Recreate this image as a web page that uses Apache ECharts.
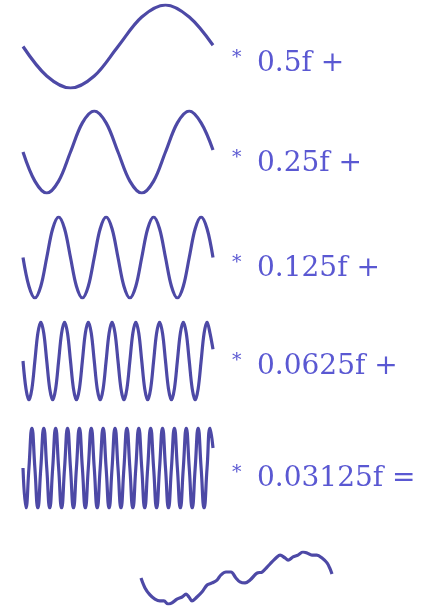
<!DOCTYPE html>
<html>
<head>
<meta charset="utf-8">
<script src="https://cdn.jsdelivr.net/npm/echarts@6/dist/echarts.min.js"></script>
<style>
html,body{margin:0;padding:0;background:#ffffff;}
#c{width:432px;height:610px;}
</style>
</head>
<body>
<div id="c"></div>
<script>
// Octave waves (amplitude normalised to -1..1)
const wave1 = [0, -0.71, -1, -0.71, 0, 0.71, 1, 0.71, 0.03];
const wave2 = [0, -0.71, -1, -0.71, 0, 0.71, 1, 0.71, 0, -0.71, -1, -0.71, 0, 0.71, 1, 0.71, 0.05];
const wave3 = [0, -0.71, -1, -0.71, 0, 0.71, 1, 0.71,
               0, -0.71, -1, -0.71, 0, 0.71, 1, 0.71,
               0, -0.71, -1, -0.71, 0, 0.71, 1, 0.71,
               0, -0.71, -1, -0.71, 0, 0.71, 1, 0.71, 0];
const wave4 = [0, -0.71, -1, -0.71, 0, 0.71, 1, 0.71, 0, -0.71, -1, -0.71, 0, 0.71, 1, 0.71,
               0, -0.71, -1, -0.71, 0, 0.71, 1, 0.71, 0, -0.71, -1, -0.71, 0, 0.71, 1, 0.71,
               0, -0.71, -1, -0.71, 0, 0.71, 1, 0.71, 0, -0.71, -1, -0.71, 0, 0.71, 1, 0.71,
               0, -0.71, -1, -0.71, 0, 0.71, 1, 0.71, 0, -0.71, -1, -0.71, 0, 0.71, 1, 0.71, 0.3];
const wave5 = [0, -1, 0, 1, 0, -1, 0, 1, 0, -1, 0, 1, 0, -1, 0, 1,
               0, -1, 0, 1, 0, -1, 0, 1, 0, -1, 0, 1, 0, -1, 0, 1,
               0, -1, 0, 1, 0, -1, 0, 1, 0, -1, 0, 1, 0, -1, 0, 1,
               0, -1, 0, 1, 0, -1, 0, 1, 0, -1, 0, 1, 0, -1, 0, 1, 0.5];
// Resulting sum curve: position along the curve (0..1) and value
const sumX = [0, 0.021, 0.047, 0.073, 0.099, 0.120, 0.141, 0.162, 0.188, 0.215, 0.236, 0.251, 0.267, 0.293,
              0.319, 0.346, 0.372, 0.398, 0.419, 0.445, 0.471, 0.497, 0.518, 0.545, 0.571, 0.607, 0.634, 0.660,
              0.686, 0.712, 0.728, 0.754, 0.770, 0.796, 0.822, 0.848, 0.869, 0.895, 0.921, 0.948, 0.974, 0.990, 1.0];
const sumY = [0, -0.38, -0.65, -0.81, -0.88, -0.88, -1.0, -0.96, -0.81, -0.73, -0.62, -0.73, -0.88, -0.73,
              -0.54, -0.27, -0.19, -0.08, 0.12, 0.23, 0.23, 0, -0.15, -0.19, -0.08, 0.19, 0.23, 0.42,
              0.62, 0.81, 0.88, 0.77, 0.69, 0.81, 0.88, 1.0, 0.96, 0.88, 0.88, 0.77, 0.58, 0.35, 0.15];
const labels = ['* 0.5f +', '* 0.25f +', '* 0.125f +', '* 0.0625f +', '* 0.03125f ='];

const waves = [wave1, wave2, wave3, wave4, wave5];
const smoothness = [0.34, 0.34, 0.34, 0.34, 0.5];
const lineColor = '#4d49a6';
const textColor = '#5a58d2';

const waveGrids = [
  {left: 23, width: 190, top: 5, height: 83},
  {left: 23, width: 190, top: 111, height: 82},
  {left: 23, width: 190, top: 217, height: 81},
  {left: 23, width: 190, top: 322, height: 78},
  {left: 23, width: 190, top: 428, height: 80}
];
const labelY = [62, 162, 267, 365, 477];

const grids = waveGrids.concat([{left: 141, width: 191, top: 552, height: 52}]);
const xAxes = [], yAxes = [], series = [];
waves.forEach((w, i) => {
  xAxes.push({gridIndex: i, type: 'category', boundaryGap: false, data: w.map((_, k) => k), show: false});
  yAxes.push({gridIndex: i, type: 'value', min: -1, max: 1, show: false});
  series.push({type: 'line', xAxisIndex: i, yAxisIndex: i, data: w, smooth: smoothness[i], symbol: 'none',
    lineStyle: {color: lineColor, width: 3.2}, silent: true, animation: false});
});
xAxes.push({gridIndex: 5, type: 'value', min: 0, max: 1, show: false});
yAxes.push({gridIndex: 5, type: 'value', min: -1, max: 1, show: false});
series.push({type: 'line', xAxisIndex: 5, yAxisIndex: 5, data: sumX.map((x, k) => [x, sumY[k]]),
  smooth: 0.34, symbol: 'none', lineStyle: {color: lineColor, width: 3.2}, silent: true, animation: false});

const graphics = [];
labels.forEach((t, i) => {
  graphics.push({
    type: 'text', left: 232, top: labelY[i] - 13,
    style: {text: t.slice(0, 1), fontFamily: 'DejaVu Serif', fontSize: 19, fill: textColor}
  });
  graphics.push({
    type: 'text', left: 257, top: labelY[i] - 12,
    style: {text: t.slice(2), fontFamily: 'DejaVu Serif', fontSize: 28, fill: textColor}
  });
});

const chart = echarts.init(document.getElementById('c'), null, {renderer: 'canvas'});
chart.setOption({
  backgroundColor: '#ffffff',
  animation: false,
  grid: grids,
  xAxis: xAxes,
  yAxis: yAxes,
  series: series,
  graphic: graphics
});
</script>
</body>
</html>
